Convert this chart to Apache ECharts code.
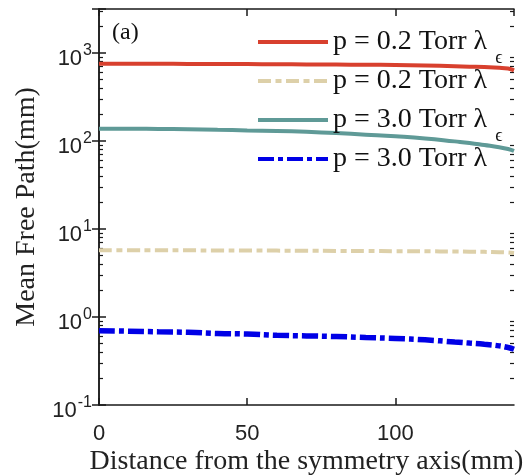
<!DOCTYPE html>
<html>
<head>
<meta charset="utf-8">
<script src="https://cdn.jsdelivr.net/npm/echarts@6/dist/echarts.min.js"></script>
<style>
html,body{margin:0;padding:0;background:#fff;}
#chart{width:528px;height:475px;}
</style>
</head>
<body>
<div id="chart"></div>
<script>
// ---- data ----
const xValues = [0, 10, 20, 30, 40, 50, 60, 70, 80, 90, 100, 110, 120, 125, 130, 135, 138, 140];
const lamEps02 = [755, 755, 754, 752, 750, 748, 745, 742, 739, 735, 731, 722, 708, 700, 692, 680, 665, 636];
const lam02    = [5.75, 5.74, 5.73, 5.72, 5.71, 5.70, 5.68, 5.66, 5.64, 5.62, 5.60, 5.58, 5.55, 5.53, 5.50, 5.45, 5.40, 5.33];
const lamEps30 = [138, 138, 137, 136, 134, 132, 130, 127, 123, 118, 113, 107, 99, 95, 90, 85, 81, 77];
const lam30    = [0.70, 0.69, 0.68, 0.67, 0.65, 0.64, 0.62, 0.61, 0.60, 0.585, 0.57, 0.55, 0.52, 0.505, 0.49, 0.47, 0.45, 0.43];
const seriesNames = ['p = 0.2 Torr λϵ', 'p = 0.2 Torr λ ', 'p = 3.0 Torr λϵ', 'p = 3.0 Torr λ'];
const xTickValues = [0, 50, 100];
const yMin = 0.1, yMax = 3162.28;
const minorYTicks = [];
[0.1, 1, 10, 100, 1000].forEach(d => { for (let k = 2; k <= 9; k++) { const v = d * k; if (v < yMax) minorYTicks.push(+(v.toPrecision(3))); } });

const serif = "'Liberation Serif', 'Times New Roman', 'DejaVu Serif', serif";
const sans = "'Liberation Sans', Arial, sans-serif";

function pairs(ys) { return xValues.map((x, i) => [x, ys[i]]); }

const chart = echarts.init(document.getElementById('chart'), null, {renderer: 'canvas'});

const logLabel = {
  show: true,
  margin: 7,
  formatter: function (v) {
    const e = Math.log10(v);
    if (Math.abs(e - Math.round(e)) > 1e-6) return '';
    return '{b|10}{sup|' + Math.round(e) + '}';
  },
  rich: {
    b: {fontFamily: sans, fontSize: 22, color: '#222', padding: [12, 0, 0, 0]},
    sup: {fontFamily: sans, fontSize: 16, color: '#222', padding: [0, 0, 5, 1]}
  }
};

const axisLineStyle = {color: '#1a1a1a', width: 1.5};

const option = {
  animation: false,
  backgroundColor: '#fff',
  grid: {left: 99, right: 14, top: 9, bottom: 70, containLabel: false, outerBoundsMode: 'none'},
  xAxis: [
    {
      type: 'value', position: 'bottom', min: 0, max: 140, interval: 50,
      name: 'Distance from the symmetry axis(mm)', nameLocation: 'middle', nameGap: 43,
      nameMoveOverlap: false,
      nameTextStyle: {fontFamily: serif, fontSize: 28, color: '#222'},
      axisLine: {show: true, lineStyle: axisLineStyle},
      axisTick: {show: true, inside: true, length: 7, lineStyle: axisLineStyle},
      axisLabel: {show: true, margin: 18, fontFamily: sans, fontSize: 22, color: '#222', showMaxLabel: false,
        formatter: v => (xTickValues.indexOf(v) >= 0 ? String(v) : '')},
      splitLine: {show: false}
    },
    {
      type: 'value', position: 'top', min: 0, max: 140, interval: 50,
      axisLine: {show: true, lineStyle: axisLineStyle},
      axisTick: {show: true, inside: true, length: 7, lineStyle: axisLineStyle},
      axisLabel: {show: false}, splitLine: {show: false}
    }
  ],
  yAxis: [
    {
      type: 'log', logBase: 10, position: 'left', min: yMin, max: yMax,
      name: 'Mean Free Path(mm)', nameLocation: 'middle', nameGap: 58,
      nameMoveOverlap: false,
      nameTextStyle: {fontFamily: serif, fontSize: 28, color: '#222'},
      axisLine: {show: true, lineStyle: axisLineStyle},
      axisTick: {show: true, inside: true, length: 7, lineStyle: axisLineStyle},
      axisLabel: logLabel,
      splitLine: {show: false}
    },
    {
      type: 'log', logBase: 10, position: 'right', min: yMin, max: yMax,
      axisLine: {show: true, lineStyle: axisLineStyle},
      axisTick: {show: true, inside: true, length: 7, lineStyle: axisLineStyle},
      axisLabel: {show: false}, splitLine: {show: false}
    },
    {
      type: 'log', logBase: 10, position: 'left', min: yMin, max: yMax,
      axisLine: {show: false},
      axisTick: {show: true, inside: true, length: 4, customValues: minorYTicks, lineStyle: {color: '#1a1a1a', width: 1.2}},
      axisLabel: {show: false}, splitLine: {show: false}
    },
    {
      type: 'log', logBase: 10, position: 'right', min: yMin, max: yMax,
      axisLine: {show: false},
      axisTick: {show: true, inside: true, length: 4, customValues: minorYTicks, lineStyle: {color: '#1a1a1a', width: 1.2}},
      axisLabel: {show: false}, splitLine: {show: false}
    }
  ],
  legend: {
    orient: 'vertical', left: 251, top: 23,
    itemWidth: 70, itemHeight: 14, itemGap: 0,
    data: seriesNames,
    itemStyle: {opacity: 0},
    lineStyle: {width: 4},
    formatter: function (name) {
      if (name.endsWith('ϵ')) return '{m|' + name.slice(0, -1) + '}{s|ϵ}';
      return '{m|' + name.trim() + '}{s|\u200b}';
    },
    textStyle: {
      rich: {
        m: {fontFamily: serif, fontSize: 28, color: '#111'},
        s: {fontFamily: serif, fontSize: 18, color: '#111', padding: [32, 0, 0, 8]}
      }
    }
  },
  graphic: [
    {type: 'text', left: 112, top: 21, style: {text: '(a)', font: '24px ' + serif, fill: '#111'}}
  ],
  series: [
    {name: seriesNames[0], type: 'line', data: pairs(lamEps02), symbol: 'none', smooth: true,
      lineStyle: {color: '#D8402E', width: 4}, itemStyle: {color: '#D8402E'}},
    {name: seriesNames[1], type: 'line', data: pairs(lam02), symbol: 'none', smooth: true,
      lineStyle: {color: '#DDD0A9', width: 4, type: [13, 4.5, 6, 4.5]}, itemStyle: {color: '#DDD0A9'}},
    {name: seriesNames[2], type: 'line', data: pairs(lamEps30), symbol: 'none', smooth: true,
      lineStyle: {color: '#5F9A97', width: 4}, itemStyle: {color: '#5F9A97'}},
    {name: seriesNames[3], type: 'line', data: pairs(lam30), symbol: 'none', smooth: true,
      lineStyle: {color: '#0000E6', width: 5.5, type: [16, 4, 5, 4]}, itemStyle: {color: '#0000E6'}}
  ]
};
chart.setOption(option);
</script>
</body>
</html>
